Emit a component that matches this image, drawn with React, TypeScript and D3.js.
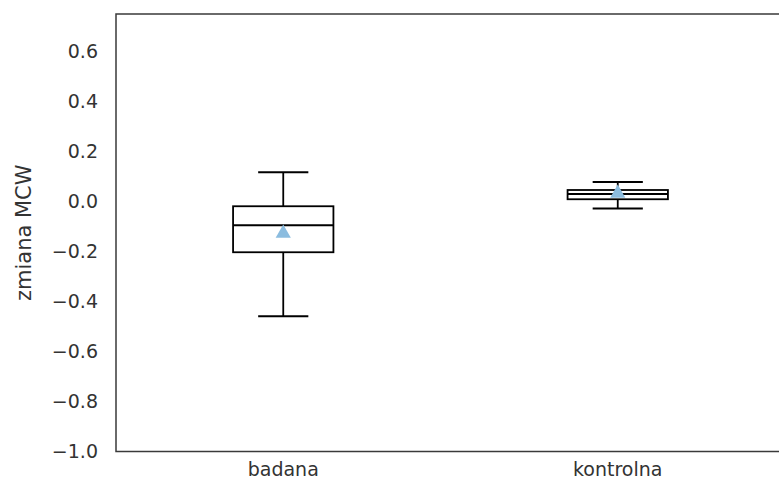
import React, { useEffect, useRef } from 'react';
import * as d3 from 'd3';

// values
const groups = ['badana', 'kontrolna'];
const whiskerLow = [-0.459, -0.028];
const quartile1 = [-0.203, 0.009];
const medians = [-0.095, 0.03];
const quartile3 = [-0.019, 0.046];
const whiskerHigh = [0.117, 0.078];
const means = [-0.123, 0.037];
const yTicks = [-1.0, -0.8, -0.6, -0.4, -0.2, 0.0, 0.2, 0.4, 0.6];

const width = 779;
const height = 483;
const margin = { top: 14, right: -6, bottom: 32, left: 116 };
const textColor = '#333333';
const font = 'DejaVu Sans, sans-serif';

const App = () => {
    const ref = useRef<SVGSVGElement>(null);

    useEffect(() => {
        document.body.style.margin = '0';
        const svg = d3.select(ref.current);
        svg.selectAll('*').remove();

        const x = d3.scaleLinear().domain([-0.5, 1.5]).range([margin.left, width - margin.right]);
        const y = d3.scaleLinear().domain([-1.0, 0.75]).range([height - margin.bottom + 0.5, margin.top]);
        const boxW = x(0.3) - x(0);
        const capW = boxW / 2;

        // frame
        svg.append('rect')
            .attr('x', x(-0.5)).attr('y', y(0.75))
            .attr('width', x(1.5) - x(-0.5)).attr('height', y(-1.0) - y(0.75))
            .attr('fill', 'none').attr('stroke', '#3a3a3a').attr('stroke-width', 1.5);

        // y tick labels
        svg.append('g').selectAll('text').data(yTicks).enter()
            .append('text')
            .attr('x', 98).attr('y', (d) => y(d))
            .attr('dy', '0.36em')
            .attr('text-anchor', 'end')
            .attr('font-family', font).attr('font-size', 19).attr('fill', textColor)
            .text((d) => d3.format('.1f')(d).replace('-', '\u2212'));

        // x tick labels
        svg.append('g').selectAll('text').data(groups).enter()
            .append('text')
            .attr('x', (d, i) => x(i)).attr('y', 476)
            .attr('text-anchor', 'middle')
            .attr('font-family', font).attr('font-size', 19).attr('fill', textColor)
            .text((d) => d);

        // y axis label
        const midY = (y(-1.0) + y(0.75)) / 2;
        svg.append('text')
            .attr('transform', `translate(31, ${midY}) rotate(-90)`)
            .attr('text-anchor', 'middle')
            .attr('font-family', font).attr('font-size', 21).attr('fill', textColor)
            .text('zmiana MCW');

        // boxes
        const g = svg.append('g').attr('stroke', '#000').attr('stroke-width', 1.8).attr('fill', 'none');
        groups.forEach((name, i) => {
            const cx = x(i);
            g.append('line').attr('x1', cx).attr('x2', cx).attr('y1', y(quartile3[i])).attr('y2', y(whiskerHigh[i]));
            g.append('line').attr('x1', cx).attr('x2', cx).attr('y1', y(quartile1[i])).attr('y2', y(whiskerLow[i]));
            g.append('line').attr('x1', cx - capW / 2).attr('x2', cx + capW / 2).attr('y1', y(whiskerHigh[i])).attr('y2', y(whiskerHigh[i]));
            g.append('line').attr('x1', cx - capW / 2).attr('x2', cx + capW / 2).attr('y1', y(whiskerLow[i])).attr('y2', y(whiskerLow[i]));
            g.append('rect')
                .attr('x', cx - boxW / 2).attr('y', y(quartile3[i]))
                .attr('width', boxW).attr('height', y(quartile1[i]) - y(quartile3[i]))
                .attr('fill', '#fff');
            g.append('line').attr('x1', cx - boxW / 2).attr('x2', cx + boxW / 2).attr('y1', y(medians[i])).attr('y2', y(medians[i]));
        });

        // means
        const tri = d3.symbol().type(d3.symbolTriangle).size(100);
        svg.append('g').selectAll('path').data(means).enter()
            .append('path')
            .attr('d', tri)
            .attr('transform', (d, i) => `translate(${x(i)}, ${y(d) + 1})`)
            .attr('fill', '#8bbcdf');
    }, []);

    return <svg ref={ref} width={width} height={height} style={{ display: 'block' }}></svg>;
};

export default App;
